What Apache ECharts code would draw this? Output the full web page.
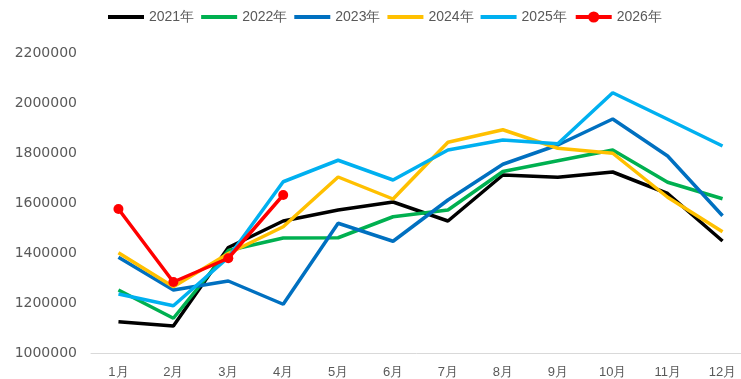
<!DOCTYPE html>
<html>
<head>
<meta charset="utf-8">
<script src="https://cdn.jsdelivr.net/npm/echarts@6/dist/echarts.min.js"></script>
<style>
html, body { margin: 0; padding: 0; background: #fff; }
#chart { width: 741px; height: 379px; }
</style>
</head>
<body>
<div id="chart"></div>
<script>
// Monthly figures by year
const months = ['1月','2月','3月','4月','5月','6月','7月','8月','9月','10月','11月','12月'];
const years = ['2021年','2022年','2023年','2024年','2025年','2026年'];
const colors = ['#000000','#00B050','#0070C0','#FFC000','#00B0F0','#FF0000'];

const y2021 = [1125000,1108000,1422000,1528000,1572000,1604000,1528000,1712000,1703000,1724000,1638000,1448000];
const y2022 = [1252000,1139000,1410000,1460000,1461000,1545000,1572000,1726000,1769000,1812000,1683000,1617000];
const y2023 = [1383000,1252000,1288000,1195000,1519000,1447000,1612000,1755000,1832000,1936000,1788000,1549000];
const y2024 = [1401000,1265000,1398000,1505000,1704000,1616000,1843000,1893000,1819000,1799000,1623000,1485000];
const y2025 = [1236000,1189000,1382000,1685000,1771000,1692000,1812000,1852000,1837000,2041000,1935000,1828000];
const y2026 = [1576000,1284000,1379000,1632000];

const seriesData = [y2021, y2022, y2023, y2024, y2025, y2026];

// Plain thick line for the legend; the corner moves keep the bar centred in the icon box
const lineIcon = 'path://M0,0 M36,14 M0,5 L36,5 L36,9 L0,9 Z';

const chart = echarts.init(document.getElementById('chart'));
chart.setOption({
  animation: false,
  backgroundColor: '#ffffff',
  color: colors,
  legend: {
    top: 5,
    left: 103,
    itemWidth: 36,
    itemHeight: 14,
    itemGap: 7,
    textStyle: { color: '#595959', fontSize: 14, fontFamily: 'Liberation Sans, Arial, sans-serif' },
    data: years.map((y, i) => (i < 5
      ? { name: y, icon: lineIcon }
      : { name: y, lineStyle: { width: 4 } }))
  },
  grid: { left: 91, width: 659, top: 53, bottom: 26, outerBoundsMode: 'none', containLabel: false },
  xAxis: {
    type: 'category',
    data: months,
    boundaryGap: true,
    axisLine: { lineStyle: { color: '#D9D9D9', width: 1 } },
    axisTick: { show: false },
    axisLabel: { color: '#595959', fontSize: 13, margin: 13 }
  },
  yAxis: {
    type: 'value',
    min: 1000000,
    max: 2200000,
    interval: 200000,
    axisLine: { show: false },
    axisTick: { show: false },
    splitLine: { show: false },
    axisLabel: {
      color: '#595959',
      fontSize: 14,
      fontFamily: 'DejaVu Sans, sans-serif',
      margin: 14,
      formatter: v => String(v)
    }
  },
  series: seriesData.map((d, i) => ({
    name: years[i],
    type: 'line',
    data: d,
    symbol: i === 5 ? 'circle' : 'none',
    symbolSize: 10,
    showSymbol: i === 5,
    lineStyle: { width: 3.5, color: colors[i] },
    itemStyle: { color: colors[i] },
    z: i === 5 ? 10 : 2 + i
  }))
});
</script>
</body>
</html>
